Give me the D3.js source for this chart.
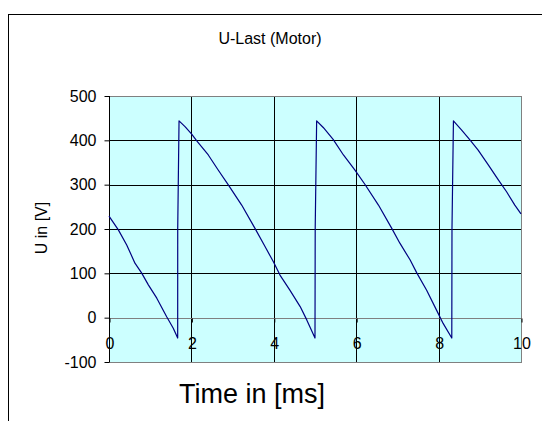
<!DOCTYPE html>
<html>
<head>
<meta charset="utf-8">
<script src="https://cdn.jsdelivr.net/npm/d3@7"></script>
<style>
  html, body { margin: 0; padding: 0; background: #fff; }
  svg { display: block; font-family: "Liberation Sans", Arial, sans-serif; }
</style>
</head>
<body>
<svg id="chart" width="542" height="421"></svg>
<script>
// Motor load voltage, sampled trace (time in ms, voltage in V)
const timeMs = [0, 0.227, 0.43, 0.63, 0.79, 0.955, 1.16, 1.40, 1.56, 1.667, 1.668, 1.70,
  1.845, 2.007, 2.13, 2.41, 2.65, 2.90, 3.22, 3.54, 3.79, 3.99, 4.15, 4.39, 4.64, 4.80, 5.00, 5.005, 5.04,
  5.20, 5.44, 5.69, 5.97, 6.21, 6.54, 6.86, 7.06, 7.31, 7.47, 7.71, 7.95, 8.11, 8.32, 8.325, 8.36,
  8.56, 8.76, 8.96, 9.21, 9.45, 9.65, 9.85, 10.0];
const voltage = [229, 198, 164, 123, 101, 74, 44, 2, -24, -46, 200, 444,
  431, 414, 399, 367, 333, 299, 254, 202, 160, 126, 96, 62, 25, -5, -46, 200, 444,
  429, 402, 367, 333, 301, 254, 202, 168, 130, 101, 62, 17, -13, -46, 200, 444,
  423, 401, 378, 344, 311, 284, 254, 234];

const xTicks = [0, 2, 4, 6, 8, 10];
const yTicks = [-100, 0, 100, 200, 300, 400, 500];

const chartTitle = "U-Last (Motor)";
const xTitle = "Time in [ms]";
const yTitle = "U in [V]";

const svg = d3.select("#chart");
const plot = { left: 109, top: 96, right: 521, bottom: 362 };

const x = d3.scaleLinear().domain([0, 10]).range([plot.left, plot.right]);
const y = d3.scaleLinear().domain([-100, 500]).range([plot.bottom, plot.top]);

// plain hyphen for negative numbers
const fmt = d => String(d);

// outer chart frame
svg.append("rect")
  .attr("x", 8.5).attr("y", 14.5)
  .attr("width", 600).attr("height", 500)
  .attr("fill", "#fff").attr("stroke", "#000").attr("stroke-width", 1);

// plot background
svg.append("rect")
  .attr("x", plot.left).attr("y", plot.top)
  .attr("width", plot.right - plot.left).attr("height", plot.bottom - plot.top)
  .attr("fill", "#ccffff");

// horizontal gridlines
svg.append("g").selectAll("line")
  .data(yTicks.filter(d => d !== -100 && d !== 500 && d !== 0))
  .join("line")
  .attr("x1", plot.left).attr("x2", plot.right)
  .attr("y1", d => Math.round(y(d)) + 0.5).attr("y2", d => Math.round(y(d)) + 0.5)
  .attr("stroke", "#000").attr("stroke-width", 1);

// vertical gridlines
svg.append("g").selectAll("line")
  .data(xTicks.filter(d => d !== 0 && d !== 10))
  .join("line")
  .attr("y1", plot.top).attr("y2", plot.bottom)
  .attr("x1", d => Math.round(x(d)) + 0.5).attr("x2", d => Math.round(x(d)) + 0.5)
  .attr("stroke", "#000").attr("stroke-width", 1);

// plot border (grey)
svg.append("rect")
  .attr("x", plot.left + 0.5).attr("y", plot.top + 0.5)
  .attr("width", plot.right - plot.left).attr("height", plot.bottom - plot.top)
  .attr("fill", "none").attr("stroke", "#808080").attr("stroke-width", 1);

// x axis along U = 0
const xAxis = d3.axisBottom(x).tickValues(xTicks).tickSize(4).tickPadding(15).tickFormat(fmt);
const gx = svg.append("g")
  .attr("transform", `translate(0.5,${Math.round(y(0)) + 0.5})`)
  .call(xAxis);
gx.select(".domain").attr("stroke", "#808080").attr("d", `M${plot.left},0H${plot.right}`);
gx.selectAll(".tick line").attr("stroke", "#000");
gx.selectAll(".tick text")
  .attr("font-size", 16).attr("fill", "#000")
  .attr("font-family", "Liberation Sans, Arial, sans-serif");

// y axis
const yAxis = d3.axisLeft(y).tickValues(yTicks).tickSize(5).tickPadding(8).tickFormat(fmt);
const gy = svg.append("g")
  .attr("transform", `translate(${plot.left + 0.5},0)`)
  .call(yAxis);
gy.select(".domain").attr("stroke", "#000").attr("d", `M0,${plot.top}V${plot.bottom}`);
gy.selectAll(".tick line").attr("stroke", "#000");
gy.selectAll(".tick text")
  .attr("font-size", 16).attr("fill", "#000")
  .attr("font-family", "Liberation Sans, Arial, sans-serif");

// voltage trace
const line = d3.line().x((d, i) => x(timeMs[i])).y(d => y(d));
svg.append("path")
  .datum(voltage)
  .attr("d", line)
  .attr("fill", "none")
  .attr("stroke", "#000080")
  .attr("stroke-width", 1.2)
  .attr("stroke-linejoin", "round");

// titles
svg.append("text")
  .attr("x", 270).attr("y", 44)
  .attr("text-anchor", "middle")
  .attr("font-size", 16)
  .text(chartTitle);

svg.append("text")
  .attr("x", 252).attr("y", 403)
  .attr("text-anchor", "middle")
  .attr("font-size", 27)
  .text(xTitle);

svg.append("text")
  .attr("transform", "translate(47,228) rotate(-90)")
  .attr("text-anchor", "middle")
  .attr("font-size", 16)
  .text(yTitle);
</script>
</body>
</html>
